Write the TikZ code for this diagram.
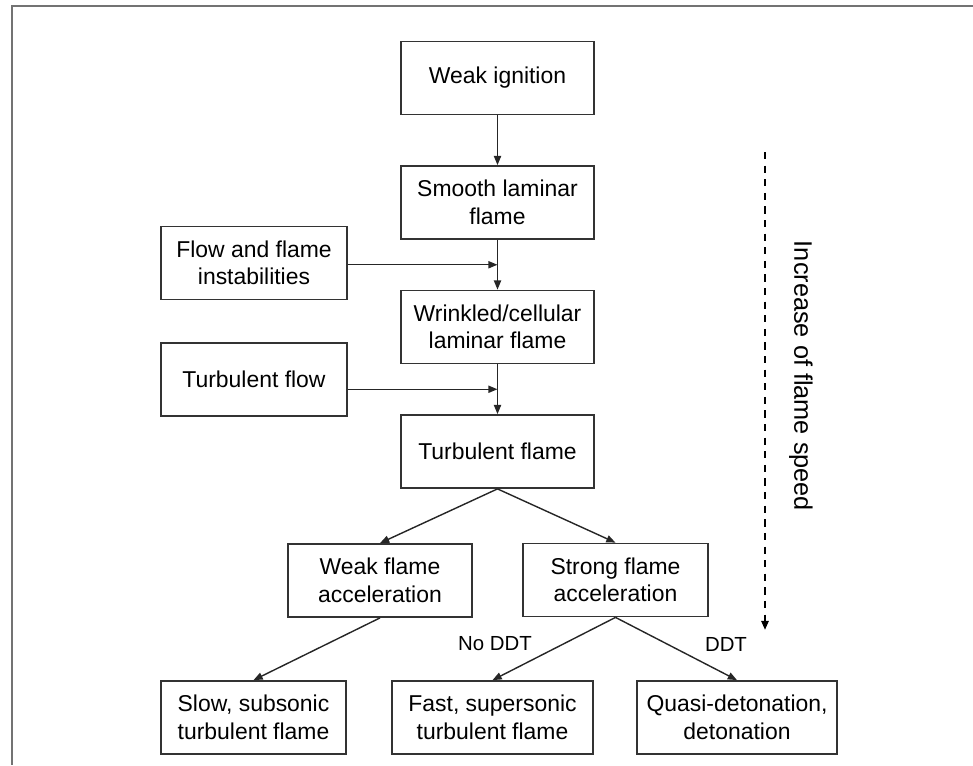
\documentclass[tikz,border=0pt]{standalone}
\usepackage{fontspec}
\setmainfont{Liberation Sans}
\usetikzlibrary{arrows.meta}

\tikzset{
    caja/.style={draw=black!80, line width=1.1pt, fill=white, align=center,
        inner sep=2pt, minimum height=1.83cm, font=\fontsize{16.3}{19.6}\selectfont},
    flecha/.style={-{Triangle[length=0.23cm,width=0.18cm]}, line width=1pt, black!85},
    etiqueta/.style={font=\fontsize{14.5}{17}\selectfont}
}

\begin{document}
\begin{tikzpicture}[x=0.025cm,y=-0.025cm]
            \useasboundingbox (0,0) rectangle (973,765);
            % Marco
            \draw[black!55, line width=1.4pt] (973,6) -- (12,6) -- (12,765);
            % Cadena central
            \node[caja, minimum width=4.825cm] (ignicion) at (497.5,78) {Weak ignition};
            \node[caja, minimum width=4.825cm] (laminar) at (497.5,202.5) {Smooth laminar\\flame};
            \node[caja, minimum width=4.825cm] (arrugada) at (497.5,327) {Wrinkled/cellular\\laminar flame};
            \node[caja, minimum width=4.825cm] (turbulenta) at (497.5,451.5) {Turbulent flame};
            % Entradas laterales
            \node[caja, minimum width=4.65cm] (inestab) at (254,263) {Flow and flame\\instabilities};
            \node[caja, minimum width=4.65cm] (flujo) at (254,379.5) {Turbulent flow};
            % Aceleracion
            \node[caja, minimum width=4.6cm] (debil) at (380,580.5) {Weak flame\\acceleration};
            \node[caja, minimum width=4.625cm] (fuerte) at (615.5,580) {Strong flame\\acceleration};
            % Resultados
            \node[caja, minimum width=4.625cm] (lenta) at (253.5,717.5) {Slow, subsonic\\turbulent flame};
            \node[caja, minimum width=5.025cm] (rapida) at (492.5,717.5) {Fast, supersonic\\turbulent flame};
            \node[caja, minimum width=5cm] (detona) at (737,717.5) {Quasi-detonation,\\detonation};
            % Flechas
            \draw[flecha] (ignicion) -- (laminar);
            \draw[flecha] (laminar) -- coordinate (m1) (arrugada);
            \draw[flecha] (arrugada) -- coordinate (m2) (turbulenta);
            \draw[flecha] (inestab.east |- m1) -- (m1);
            \draw[flecha] (flujo.east |- m2) -- (m2);
            \draw[flecha] (turbulenta.south) -- (debil.north);
            \draw[flecha] (turbulenta.south) -- (fuerte.north);
            \draw[flecha] (debil.south) -- (lenta.north);
            \draw[flecha] (fuerte.south) -- (rapida.north);
            \draw[flecha] (fuerte.south) -- (detona.north);
            \node[etiqueta] (noddt) at (495,644) {No DDT};
            \node[etiqueta] (ddt) at (726,644) {DDT};
            % Rapidez de llama
            \coordinate (ini) at (765,152);
            \coordinate (fin) at (765,630);
            \draw[flecha, black, line width=1.8pt, dash pattern=on 0.18cm off 0.16cm] (ini) -- (fin);
            \node[rotate=-90, font=\fontsize{18}{21}\selectfont] (rapidez) at (801,376) {Increase of flame speed};
        \end{tikzpicture}
\end{document}
